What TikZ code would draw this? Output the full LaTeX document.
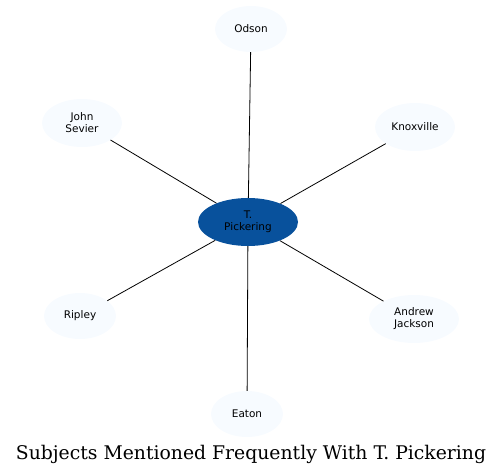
\documentclass[tikz,border=0pt]{standalone}
\usepackage{fontspec}
\newfontfamily\subjfont{DejaVu Sans}
\newfontfamily\titlefont{DejaVu Serif}
\usetikzlibrary{shapes.geometric,positioning}

\definecolor{pickblue}{HTML}{08519C}
\definecolor{paleblue}{HTML}{F7FBFF}

\begin{document}
\begin{tikzpicture}[x=1pt,y=-1pt,
    subject/.style={ellipse,fill=paleblue,inner sep=0pt,minimum width=72pt,minimum height=46pt,
        align=center,font=\subjfont\fontsize{10.5}{12}\selectfont},
    link/.style={black,line width=0.8pt}]

\useasboundingbox (0,0) rectangle (503,474);

% centre and the subjects round it
\node[subject,fill=pickblue,minimum width=100pt,minimum height=48pt] (pickering) at (248,222) {T.\\Pickering};
\node[subject] (odson) at (251,29) {Odson};
\node[subject,minimum width=80pt,minimum height=48pt] (sevier) at (82,123) {John\\Sevier};
\node[subject,minimum width=80pt,minimum height=48pt] (knoxville) at (415,127) {Knoxville};
\node[subject] (ripley) at (80,316) {Ripley};
\node[subject,minimum width=90pt,minimum height=48pt] (jackson) at (414,319) {Andrew\\Jackson};
\node[subject] (eaton) at (247,414) {Eaton};

\draw[link] (pickering) -- (odson);
\draw[link] (pickering) -- (sevier);
\draw[link] (pickering) -- (knoxville);
\draw[link] (pickering) -- (ripley);
\draw[link] (pickering) -- (jackson);
\draw[link] (pickering) -- (eaton);

\node[font=\titlefont\fontsize{18.8}{22}\selectfont] (title) at (251,454) {Subjects Mentioned Frequently With T. Pickering};

\end{tikzpicture}
\end{document}
